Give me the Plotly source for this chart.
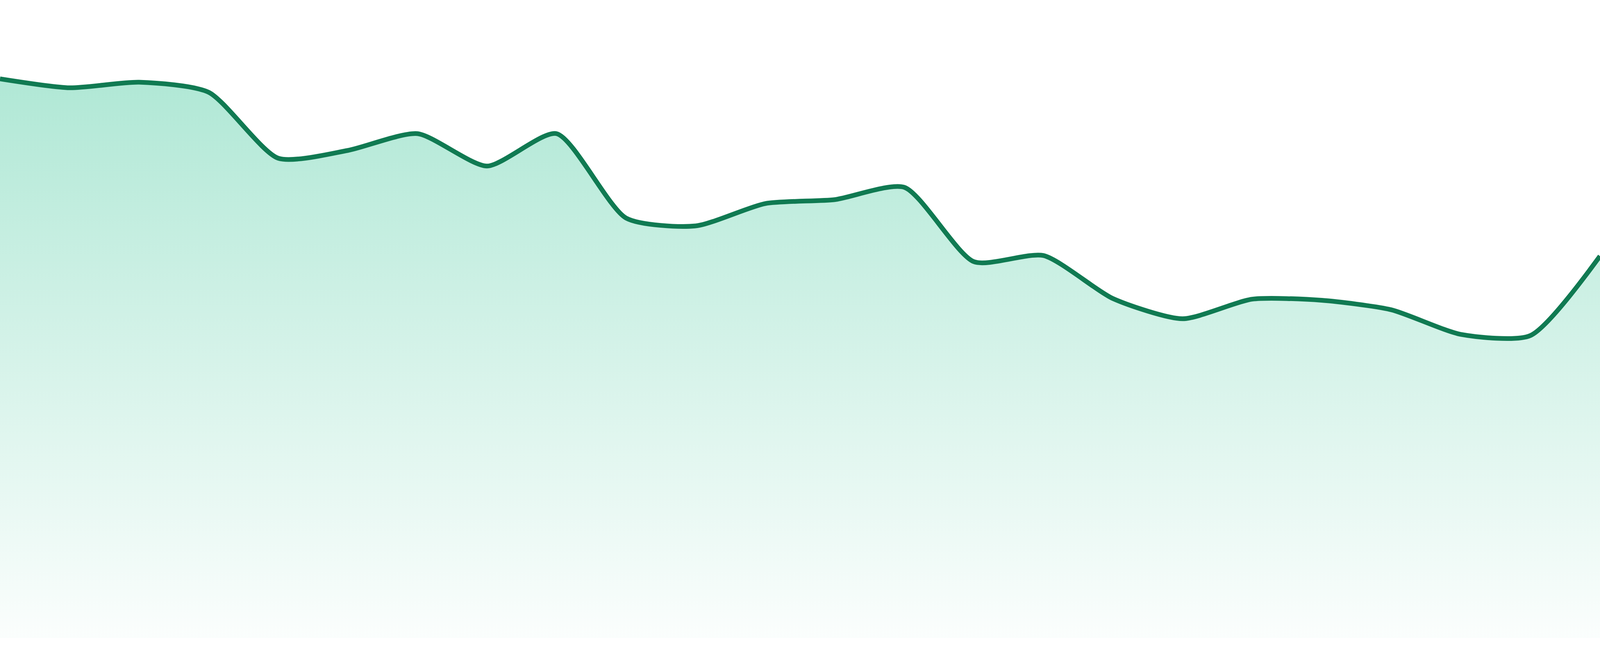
import plotly.graph_objects as go

# data (index of observation, value)
x_index = list(range(24))
values = [100.0, 98.4, 99.4, 97.6, 85.8, 87.2, 90.2, 84.4, 90.2, 75.1, 73.7, 77.7,
          78.4, 80.6, 67.3, 68.4, 60.7, 57.1, 60.6, 60.4, 58.7, 54.3, 54.1, 68.3]

line_color = "#107a52"

fig = go.Figure()
fig.add_trace(go.Scatter(
    x=x_index,
    y=values,
    mode="lines",
    line=dict(color=line_color, width=12, shape="spline", smoothing=0.65),
    fill="tozeroy",
    fillgradient=dict(
        type="vertical",
        start=0,
        stop=100,
        colorscale=[[0, "rgba(16,185,129,0.02)"], [1, "rgba(16,185,129,0.33)"]],
    ),
    hoverinfo="skip",
    showlegend=False,
))

fig.update_layout(
    autosize=True,
    margin=dict(l=0, r=0, t=0, b=0, pad=0),
    paper_bgcolor="white",
    plot_bgcolor="white",
    xaxis=dict(range=[0, 23], visible=False, fixedrange=True),
    yaxis=dict(range=[0, 114.1], domain=[46 / 1680, 1], visible=False, fixedrange=True),
)

post = """
document.documentElement.style.margin='0';
document.documentElement.style.height='100%';
document.body.style.margin='0';
document.body.style.height='100%';
document.body.style.overflow='hidden';
var gd=document.getElementById('{plot_id}');
Plotly.relayout(gd,{width:window.innerWidth,height:window.innerHeight});
"""

fig.write_html(
    "out.html",
    config={"displayModeBar": False, "staticPlot": True},
    default_width="100%",
    default_height="100%",
    post_script=post,
)
